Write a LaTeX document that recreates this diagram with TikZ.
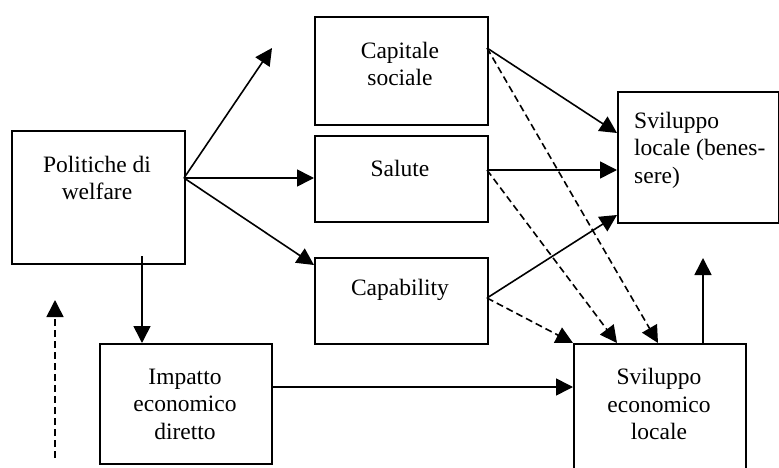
\documentclass[tikz,border=0pt]{standalone}
\usepackage{fontspec}
\setmainfont{Liberation Serif}
\usetikzlibrary{arrows.meta,calc}
\begin{document}
\begin{tikzpicture}[x=1pt,y=-1pt,
  box/.style={draw,line width=1.6pt,inner sep=0,anchor=north west},
  lbl/.style={inner sep=0,align=center,font=\fontsize{23.5}{27.5}\selectfont},
  conn/.style={line width=1.6pt,-{Triangle[length=17pt,width=17pt]}},
  dconn/.style={conn,dash pattern=on 7pt off 4pt}]
\useasboundingbox (0,0) rectangle (779,468);
\clip (0,0) rectangle (779,468);
% boxes
\node[box,minimum width=173pt,minimum height=133pt] (pol) at (11,130) {};
\node[box,minimum width=173pt,minimum height=108pt] (cap) at (314,16) {};
\node[box,minimum width=173pt,minimum height=86pt] (sal) at (314,135) {};
\node[box,minimum width=173pt,minimum height=86pt] (cpb) at (314,257) {};
\node[box,minimum width=172pt,minimum height=120pt] (imp) at (99,343) {};
\node[box,minimum width=161pt,minimum height=131pt] (svl) at (617,91) {};
\node[box,minimum width=172pt,minimum height=140pt] (sve) at (573,343) {};
% texts
\node[lbl] (tpol) at (97,178) {Politiche di\\welfare};
\node[lbl] (tcap) at (400,64) {Capitale\\sociale};
\node[lbl] (tsal) at (400,168) {Salute};
\node[lbl] (tcpb) at (400,290) {Capability};
\node[lbl] (timp) at (185,404) {Impatto\\economico\\diretto};
\node[lbl,align=left,anchor=west] (tsvl) at (634,150) {Sviluppo\\locale (benes-\\sere)};
\node[lbl] (tsve) at (659,404) {Sviluppo\\economico\\locale};
% connection points
\coordinate (polR) at (184,178);
\coordinate (free1) at (272,48);
\coordinate (cpbT) at (314,265);
\coordinate (polB) at (142,256);
\coordinate (impT) at (142,343);
\coordinate (capR) at (487,48);
\coordinate (salR) at (487,170);
\coordinate (cpbR) at (487,298);
\coordinate (svlA) at (617,133);
\coordinate (svlB) at (617,170);
\coordinate (svlC) at (617,215);
\coordinate (sveA) at (658,343);
\coordinate (sveB) at (617,343);
\coordinate (impR) at (271,387);
\coordinate (sveL) at (573,387);
\coordinate (sveT) at (703,343);
\coordinate (free2) at (703,258);
\coordinate (dfrom) at (55,458);
\coordinate (dto) at (55,300);
% connectors
\draw[conn] (polR) -- (free1);
\draw[conn] (polR) -- (sal.west |- polR);
\draw[conn] (polR) -- (cpbT);
\draw[conn] (polB) -- (impT);
\draw[conn] (capR) -- (svlA);
\draw[dconn] (capR) -- (sveA);
\draw[conn] (salR) -- (svlB);
\draw[dconn] (salR) -- (sveB);
\draw[conn] (cpbR) -- (svlC);
\draw[dconn] (cpbR) -- (sve.north west);
\draw[conn] (impR) -- (sveL);
\draw[conn] (sveT) -- (free2);
\draw[dconn] (dfrom) -- (dto);
\end{tikzpicture}
\end{document}
